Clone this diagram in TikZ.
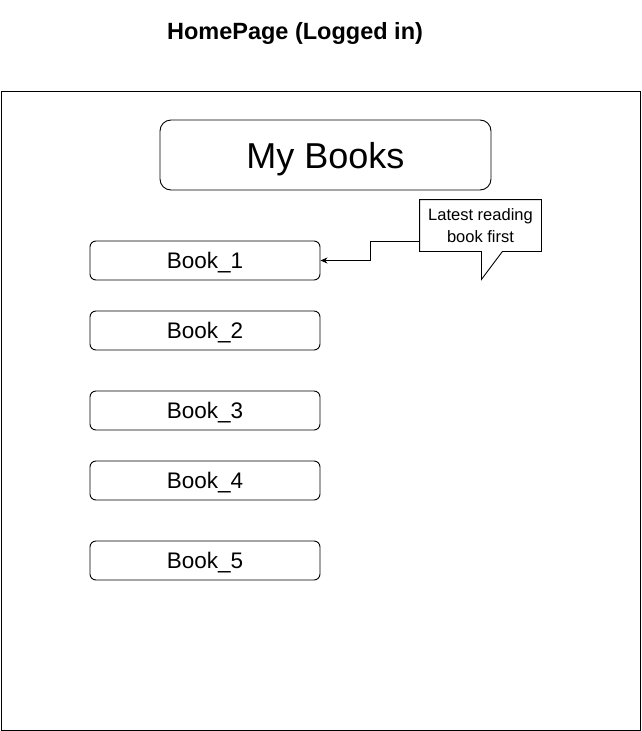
\documentclass[tikz,border=0pt]{standalone}
\usepackage{fontspec}
\setmainfont{Liberation Sans}
\usetikzlibrary{arrows.meta}
\begin{document}
\begin{tikzpicture}[x=1pt,y=-1pt,
  line width=0.9pt,
  book/.style={draw, rounded corners=6pt, minimum width=230pt, minimum height=39pt, inner sep=0pt, text depth=0pt, font=\fontsize{22.5}{26}\selectfont},
  header/.style={draw, rounded corners=11pt, minimum width=331pt, minimum height=70pt, inner sep=0pt, text depth=0pt, font=\fontsize{36}{40}\selectfont},
  calloutbox/.style={minimum width=121pt, minimum height=51pt, inner sep=0pt, align=center, font=\fontsize{16.5}{22}\selectfont},
  conn/.style={-{Stealth[length=7pt,width=6pt]}}]
\useasboundingbox (0,0) rectangle (641,731);
\node[font=\bfseries\fontsize{23.5}{27}\selectfont, text depth=0pt] (title) at (295,31) {HomePage (Logged in)};
\node[draw, minimum width=639pt, minimum height=639pt, inner sep=0pt, anchor=north west] (frame) at (1,91) {};
\node[header] (mybooks) at (325.5,155) {My Books};
\node[book] (b1) at (205,260.5) {Book\_1};
\node[book] (b2) at (205,330.5) {Book\_2};
\node[book] (b3) at (205,410.5) {Book\_3};
\node[book] (b4) at (205,480.5) {Book\_4};
\node[book] (b5) at (205,560.5) {Book\_5};
\node[calloutbox] (note) at (480.5,225.5) {Latest reading\\book first};
\draw (note.north west) -- (note.north east) -- (note.south east) -- ([xshift=-39pt]note.south east) -- ([xshift=-60pt,yshift=-28pt]note.south east) -- ([xshift=-60pt]note.south east) -- (note.south west) -- cycle;
\coordinate (bend) at ([yshift=-15.5pt]note.west);
\draw[conn] (bend) -- ++(-49,0) |- (b1.east);
\end{tikzpicture}
\end{document}
